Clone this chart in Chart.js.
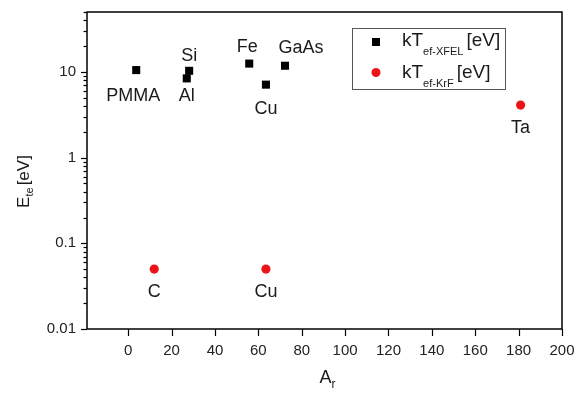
<!DOCTYPE html>
<html>
<head>
<meta charset="utf-8">
<script src="https://cdn.jsdelivr.net/npm/chart.js@4"></script>
<style>
  body { margin: 0; background: #fff; }
  canvas { display: block; }
</style>
</head>
<body>
<canvas id="chart" width="574" height="393"></canvas>
<script>
// kT ef-XFEL series
const xfelNames = ['PMMA', 'Al', 'Si', 'Fe', 'Cu', 'GaAs'];
const xfelA = [3.7, 27, 28.1, 55.8, 63.5, 72.3];
const xfelKT = [10.5, 8.4, 10.3, 12.5, 7.1, 11.8];

// kT ef-KrF series
const krfNames = ['C', 'Cu', 'Ta'];
const krfA = [12, 63.5, 180.9];
const krfKT = [0.05, 0.05, 4.1];

// axes
const xTicks = [0, 20, 40, 60, 80, 100, 120, 140, 160, 180, 200];
const yTicks = [0.01, 0.1, 1, 10];

// where each point's name sits, relative to the point (px)
const xfelLabelOffset = [[-3, 26], [0, 18], [0, -15], [-2, -17], [0, 24], [16, -18]];
const krfLabelOffset = [[0, 23], [0, 23], [0, 23]];

const FONT = "'Liberation Sans', Arial, sans-serif";
const TEXT = '#1a1a1a';
const RED = 'rgb(236, 20, 24)';

Chart.defaults.color = '#222';
Chart.defaults.font.family = FONT;

function yAllTicks(max) {
  const out = [];
  yTicks.forEach(d => {
    for (let k = 1; k <= 9; k++) {
      if (d * k <= max + 1e-9) out.push(d * k);
    }
  });
  return out;
}

// draws text with a subscript part, starting at x, middle at y
function subText(ctx, parts, x, y) {
  parts.forEach(p => {
    ctx.font = p.size + 'px ' + FONT;
    ctx.fillText(p.t, x, y + (p.dy || 0));
    x += ctx.measureText(p.t).width + (p.gap || 0);
  });
  return x;
}
function subWidth(ctx, parts) {
  let w = 0;
  parts.forEach(p => {
    ctx.font = p.size + 'px ' + FONT;
    w += ctx.measureText(p.t).width + (p.gap || 0);
  });
  return w;
}

const decor = {
  id: 'decor',
  afterDraw(chart) {
    const ctx = chart.ctx;
    const a = chart.chartArea;
    const x = chart.scales.x;
    const y = chart.scales.y;
    ctx.save();

    // frame
    ctx.strokeStyle = '#000';
    ctx.lineWidth = 1.5;
    ctx.strokeRect(a.left, a.top, a.right - a.left, a.bottom - a.top);

    // y tick marks
    ctx.lineWidth = 1.2;
    yAllTicks(y.max).forEach(v => {
      const py = Math.round(y.getPixelForValue(v)) + 0.5;
      const major = yTicks.includes(v);
      ctx.beginPath();
      ctx.moveTo(a.left, py);
      ctx.lineTo(a.left - (major ? 6 : 3.5), py);
      ctx.stroke();
    });
    // x tick marks
    xTicks.forEach(v => {
      const px = Math.round(x.getPixelForValue(v)) + 0.5;
      ctx.beginPath();
      ctx.moveTo(px, a.bottom);
      ctx.lineTo(px, a.bottom + 7);
      ctx.stroke();
    });

    // point names
    ctx.fillStyle = TEXT;
    ctx.font = '18px ' + FONT;
    ctx.textAlign = 'center';
    ctx.textBaseline = 'middle';
    [[0, xfelNames, xfelLabelOffset], [1, krfNames, krfLabelOffset]].forEach(([di, names, offs]) => {
      chart.getDatasetMeta(di).data.forEach((pt, i) => {
        ctx.fillText(names[i], pt.x + offs[i][0], pt.y + offs[i][1]);
      });
    });

    // axis titles
    ctx.textAlign = 'left';
    const xt = [{t: 'A', size: 18}, {t: 'r', size: 12, dy: 7}];
    subText(ctx, xt, (a.left + a.right) / 2 - subWidth(ctx, xt) / 2 + 3, 378);

    const yt = [{t: 'E', size: 17}, {t: 'te', size: 11, dy: 6, gap: 2}, {t: '[eV]', size: 17}];
    ctx.save();
    ctx.translate(24, (a.top + a.bottom) / 2 + 11);
    ctx.rotate(-Math.PI / 2);
    subText(ctx, yt, -subWidth(ctx, yt) / 2, 0);
    ctx.restore();

    // legend
    ctx.strokeStyle = '#555';
    ctx.lineWidth = 1;
    ctx.strokeRect(352.5, 28.5, 153, 61);
    ctx.fillStyle = '#000';
    ctx.fillRect(372, 38, 8, 8);
    ctx.fillStyle = RED;
    ctx.beginPath();
    ctx.arc(376, 72.5, 4.5, 0, Math.PI * 2);
    ctx.fill();
    ctx.fillStyle = TEXT;
    subText(ctx, [{t: 'kT', size: 19}, {t: 'ef-XFEL', size: 11, dy: 11, gap: 3}, {t: '[eV]', size: 19}], 402, 41);
    subText(ctx, [{t: 'kT', size: 19}, {t: 'ef-KrF', size: 11, dy: 11, gap: 3}, {t: '[eV]', size: 19}], 402, 73);

    ctx.restore();
  }
};

new Chart(document.getElementById('chart'), {
  type: 'scatter',
  data: {
    datasets: [
      {
        label: 'kT ef-XFEL [eV]',
        data: xfelA.map((v, i) => ({x: v, y: xfelKT[i]})),
        pointStyle: 'rect',
        pointRadius: 5.7,
        backgroundColor: '#000',
        borderColor: '#000',
        borderWidth: 0
      },
      {
        label: 'kT ef-KrF [eV]',
        data: krfA.map((v, i) => ({x: v, y: krfKT[i]})),
        pointStyle: 'circle',
        pointRadius: 4.6,
        backgroundColor: RED,
        borderColor: RED,
        borderWidth: 0
      }
    ]
  },
  options: {
    responsive: false,
    animation: false,
    layout: { padding: { top: 12, right: 12, left: 0, bottom: 0 } },
    plugins: { legend: { display: false }, tooltip: { enabled: false } },
    scales: {
      x: {
        type: 'linear',
        min: -19,
        max: 200,
        afterBuildTicks: s => { s.ticks = xTicks.map(v => ({value: v})); },
        afterFit: s => { s.height = 64; s.paddingLeft = 0; s.paddingRight = 0; },
        grid: { display: false },
        border: { display: false },
        ticks: { font: { size: 15 }, padding: 5, maxRotation: 0, autoSkip: false }
      },
      y: {
        type: 'logarithmic',
        min: 0.01,
        max: 50,
        afterBuildTicks: s => { s.ticks = yTicks.map(v => ({value: v})); },
        afterFit: s => { s.width = 87; s.paddingTop = 0; s.paddingBottom = 0; },
        grid: { display: false },
        border: { display: false },
        ticks: {
          font: { size: 15 },
          padding: 3,
          autoSkip: false,
          callback: v => String(v)
        }
      }
    }
  },
  plugins: [decor]
});
</script>
</body>
</html>
